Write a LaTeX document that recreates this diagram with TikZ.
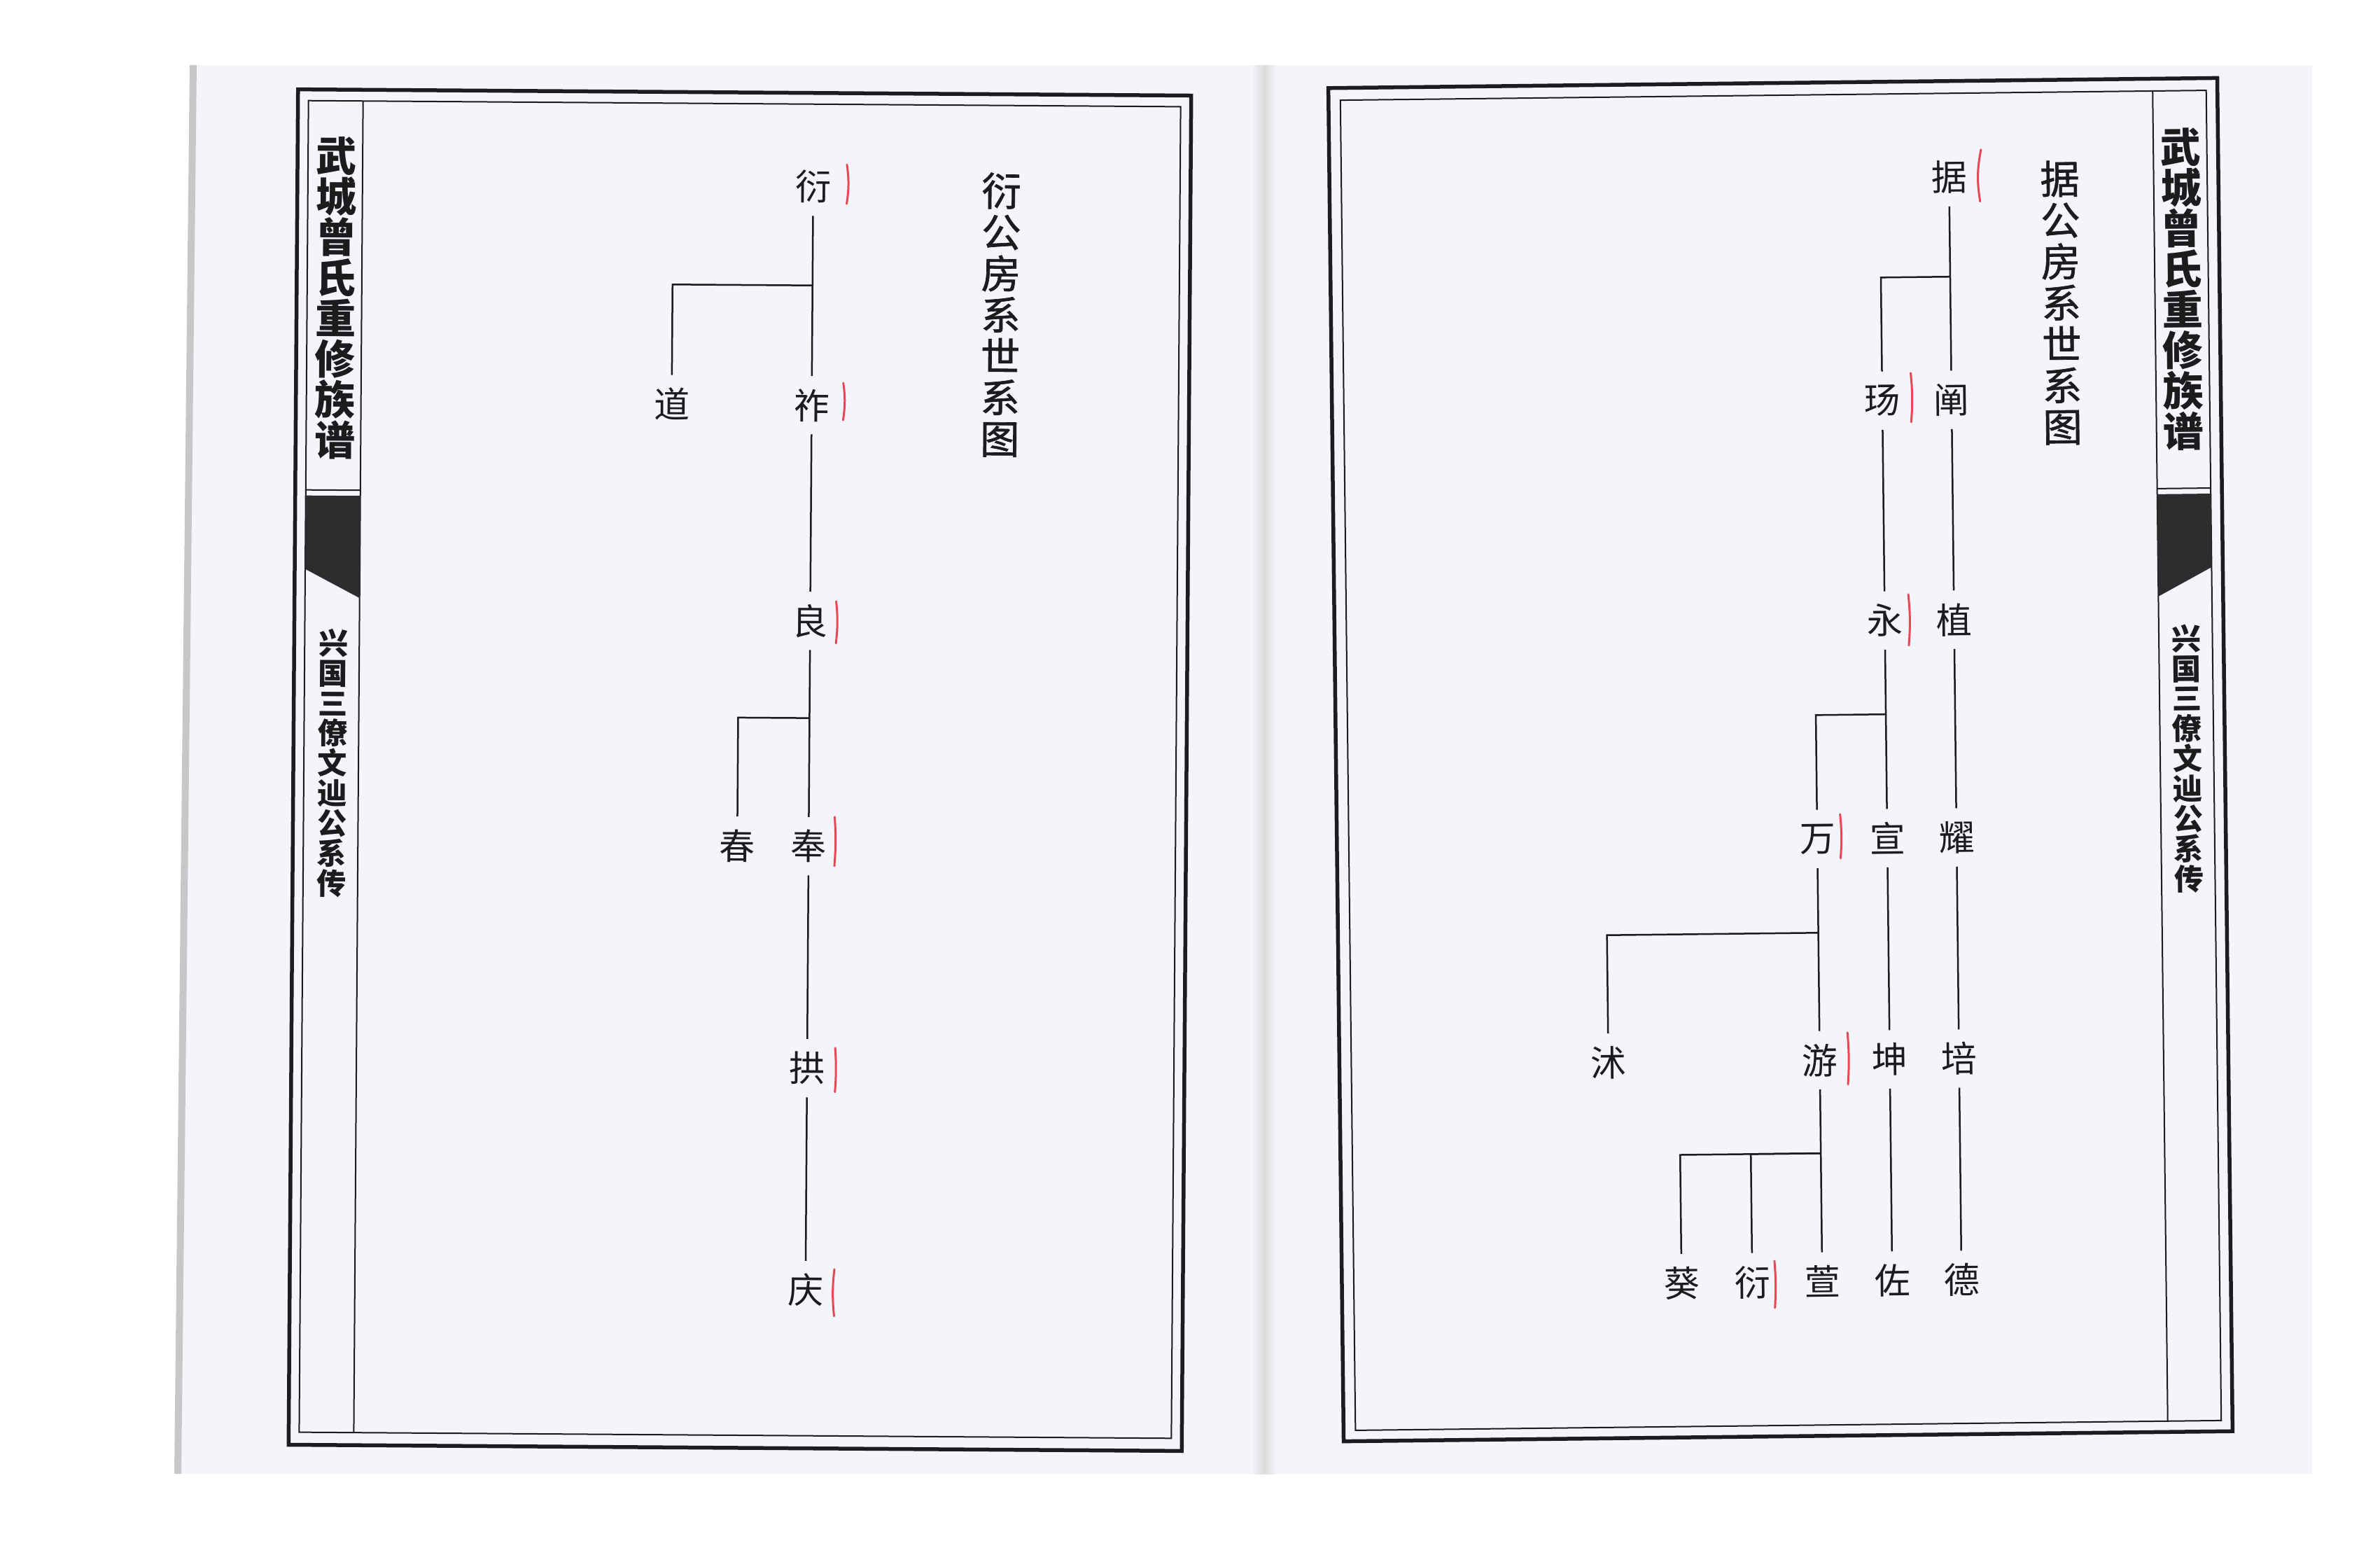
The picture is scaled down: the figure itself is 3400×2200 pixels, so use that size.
\documentclass[tikz,border=0pt]{standalone}
\usepackage{fontspec}
\newfontfamily\cjk{Noto Sans CJK SC}
\newfontfamily\cjkmed[FakeBold=1.2]{Noto Sans CJK SC}
\definecolor{pagecol}{RGB}{244,245,250}
\definecolor{ink}{RGB}{28,28,30}
\definecolor{markred}{RGB}{232,72,84}
\definecolor{blockcol}{RGB}{45,45,48}
\tikzset{
  outerframe/.style={draw=ink, line width=0.55mm, line join=miter},
  innerframe/.style={draw=ink, line width=0.2mm},
  colline/.style={draw=ink, line width=0.2mm},
  person/.style={font={\cjk\fontsize{14.5pt}{14.5pt}\selectfont}, text=ink, inner sep=0pt, minimum height=8.2mm, minimum width=5mm},
  link/.style={draw=ink, line width=0.25mm},
  redmark/.style={draw=markred, line width=0.3mm, line cap=round},
  booktitle/.style={font={\cjk\bfseries\fontsize{16.5pt}{16.5pt}\selectfont}, text=ink, align=center, inner sep=0pt},
  booksub/.style={font={\cjk\bfseries\fontsize{12pt}{12.2pt}\selectfont}, text=ink, align=center, inner sep=0pt},
  pagetitle/.style={font={\cjkmed\fontsize{16pt}{16.8pt}\selectfont}, text=ink, align=center, inner sep=0pt},
}
\begin{document}
\begin{tikzpicture}[x=0.1mm,y=-0.1mm]
\useasboundingbox (0,0) rectangle (3400,2200);
\fill[white] (0,0) rectangle (3400,2200);
% paper
\fill[pagecol] (276,93) -- (3303,93) -- (3303,2105) -- (253,2105) -- cycle;
\draw[line width=1mm, black!22] (276,93) -- (254,2105);
\shade[left color=pagecol, right color=pagecol, middle color=black!14] (1788,93) rectangle (1824,2105);

% ================= LEFT PAGE =================
\begin{scope}[rotate around={-0.4:(1057,1100)}, transform shape]
  \draw[outerframe] (419,132) rectangle (1695,2068);
  \draw[innerframe] (434,148) rectangle (1680,2050);
  \draw[colline] (512,148) -- (512,2050);
  \draw[colline] (434,704) -- (512,704);
  \fill[blockcol] (434,712) -- (512,712) -- (512,858) -- (434,817) -- cycle;
  \node[booktitle] (ltitle) at (475,430) {武\\城\\曾\\氏\\重\\修\\族\\谱};
  \node[booksub] (lsub) at (475,1094) {兴\\国\\三\\僚\\文\\辿\\公\\系\\传};
  \node[pagetitle] (lpt) at (1425,447) {衍\\公\\房\\系\\世\\系\\图};

  \node[person] (l1) at (1156,266) {衍};
  \node[person] (l2) at (1156,578) {祚};
  \node[person] (l2b) at (956,578) {道};
  \node[person] (l3) at (1156,886) {良};
  \node[person] (l4) at (1156,1208) {奉};
  \node[person] (l4b) at (1054,1208) {春};
  \node[person] (l5) at (1156,1525) {拱};
  \node[person] (l6) at (1156,1842) {庆};
  \coordinate (lb1) at (1156,407);
  \coordinate (lb2) at (1156,1025);

  \draw[link] (l1.south) -- (l2.north);
  \draw[link] (lb1) -| (l2b.north);
  \draw[link] (l2.south) -- (l3.north);
  \draw[link] (l3.south) -- (l4.north);
  \draw[link] (lb2) -| (l4b.north);
  \draw[link] (l4.south) -- (l5.north);
  \draw[link] (l5.south) -- (l6.north);

  \draw[redmark] ([shift={(48,-32)}]l1.center) to[bend left=8] ([shift={(48,24)}]l1.center);
  \draw[redmark] ([shift={(45,-32)}]l2.center) to[bend left=8] ([shift={(45,21)}]l2.center);
  \draw[redmark] ([shift={(37,-28)}]l3.center) to[bend left=6] ([shift={(37,32)}]l3.center);
  \draw[redmark] ([shift={(37,-42)}]l4.center) to[bend left=4] ([shift={(37,28)}]l4.center);
  \draw[redmark] ([shift={(40,-29)}]l5.center) to[bend left=4] ([shift={(40,34)}]l5.center);
  \draw[redmark] ([shift={(41,-30)}]l6.center) to[bend right=6] ([shift={(41,37)}]l6.center);
\end{scope}

% ================= RIGHT PAGE =================
\begin{scope}[rotate around={0.65:(2543.5,1085)}, transform shape]
  \draw[outerframe] (1908.5,118.5) rectangle (3178.5,2051.5);
  \draw[innerframe] (1925.5,136) rectangle (3162.5,2036);
  \draw[colline] (3086,136) -- (3086,2036);
  \draw[colline] (3086,704) -- (3162.5,704);
  \fill[blockcol] (3086,712) -- (3162.5,712) -- (3162.5,817) -- (3086,858) -- cycle;
  \node[booktitle] (rtitle) at (3125,420) {武\\城\\曾\\氏\\重\\修\\族\\谱};
  \node[booksub] (rsub) at (3125,1090) {兴\\国\\三\\僚\\文\\辿\\公\\系\\传};
  \node[pagetitle] (rpt) at (2952,437) {据\\公\\房\\系\\世\\系\\图};

  \node[person] (r1) at (2794,256) {据};
  \node[person] (r2a) at (2794,574) {阐};
  \node[person] (r2b) at (2695,574) {玚};
  \node[person] (r3a) at (2794,888) {植};
  \node[person] (r3b) at (2695,888) {永};
  \node[person] (r4a) at (2794,1199) {耀};
  \node[person] (r4b) at (2695,1199) {宣};
  \node[person] (r4c) at (2595,1199) {万};
  \node[person] (r5a) at (2794,1515) {培};
  \node[person] (r5b) at (2695,1515) {坤};
  \node[person] (r5c) at (2595,1515) {游};
  \node[person] (r5f) at (2293,1515) {沭};
  \node[person] (r6a) at (2794,1831) {德};
  \node[person] (r6b) at (2695,1831) {佐};
  \node[person] (r6c) at (2595,1831) {萱};
  \node[person] (r6d) at (2495,1831) {衍};
  \node[person] (r6e) at (2394,1831) {葵};
  \coordinate (rb1) at (2794,398);
  \coordinate (rb2) at (2695,1022);
  \coordinate (rb3) at (2595,1333);
  \coordinate (rb4) at (2595,1648);

  \draw[link] (r1.south) -- (r2a.north);
  \draw[link] (rb1) -| (r2b.north);
  \draw[link] (r2a.south) -- (r3a.north);
  \draw[link] (r3a.south) -- (r4a.north);
  \draw[link] (r4a.south) -- (r5a.north);
  \draw[link] (r5a.south) -- (r6a.north);
  \draw[link] (r2b.south) -- (r3b.north);
  \draw[link] (r3b.south) -- (r4b.north);
  \draw[link] (rb2) -| (r4c.north);
  \draw[link] (r4b.south) -- (r5b.north);
  \draw[link] (r5b.south) -- (r6b.north);
  \draw[link] (r4c.south) -- (r5c.north);
  \draw[link] (rb3) -| (r5f.north);
  \draw[link] (r5c.south) -- (r6c.north);
  \draw[link] (rb4) -| (r6d.north);
  \draw[link] (rb4) -| (r6e.north);

  \draw[redmark] ([shift={(46,-39)}]r1.center) to[bend right=10] ([shift={(44,35)}]r1.center);
  \draw[redmark] ([shift={(41,-39)}]r2b.center) to[bend left=5] ([shift={(41,31)}]r2b.center);
  \draw[redmark] ([shift={(34,-37)}]r3b.center) to[bend left=5] ([shift={(34,36)}]r3b.center);
  \draw[redmark] ([shift={(33,-35)}]r4c.center) to[bend left=5] ([shift={(33,28)}]r4c.center);
  \draw[redmark] ([shift={(40,-39)}]r5c.center) to[bend left=4] ([shift={(40,35)}]r5c.center);
  \draw[redmark] ([shift={(32,-30)}]r6d.center) to[bend left=4] ([shift={(32,37)}]r6d.center);
\end{scope}
\end{tikzpicture}
\end{document}
